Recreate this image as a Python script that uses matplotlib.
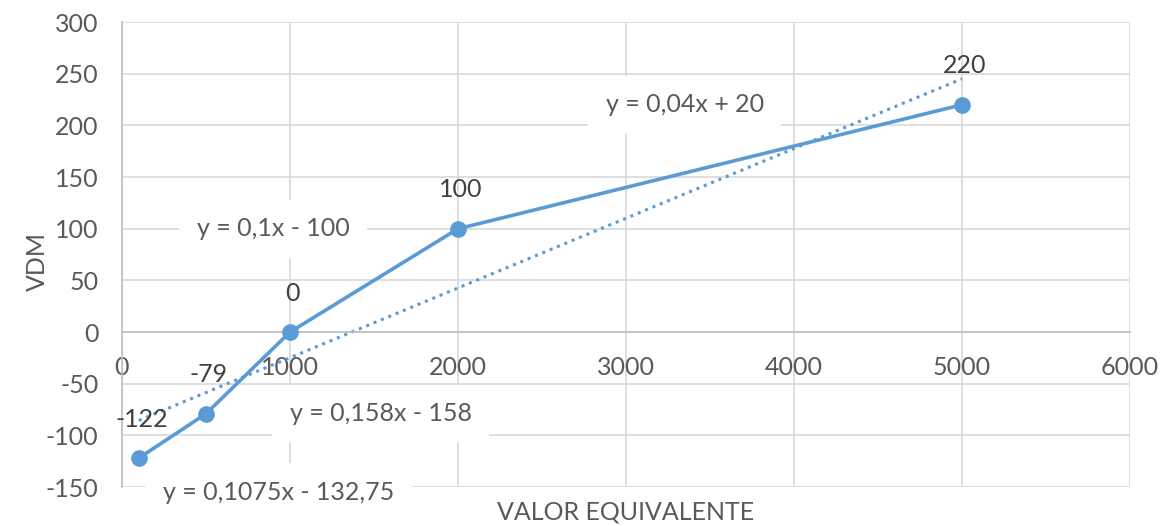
import numpy as np
import matplotlib
matplotlib.use("Agg")
import matplotlib.pyplot as plt

plt.rcParams['font.family'] = ['Lato', 'DejaVu Sans']
plt.rcParams['axes.unicode_minus'] = False

x_vals = [100, 500, 1000, 2000, 5000]
y_vals = [-122, -79, 0, 100, 220]
point_labels = ["-122", "-79", "0", "100", "220"]
equations = ["y = 0,1x - 100", "y = 0,04x + 20", "y = 0,158x - 158", "y = 0,1075x - 132,75"]
eq_positions = [(900, 100), (3350, 220), (1540, -79), (935, -155)]
x_ticks = [0, 1000, 2000, 3000, 4000, 5000, 6000]
y_ticks = [-150, -100, -50, 0, 50, 100, 150, 200, 250, 300]

blue = '#5B9BD5'
grey_text = '#595959'
grid_col = '#D9D9D9'
fs = 18

fig = plt.figure(figsize=(11.65, 5.26), dpi=100)
ax = fig.add_axes([0.1047, 0.074, 0.8653, 0.884])
ax.set_xlim(0, 6000)
ax.set_ylim(-150, 300)
ax.set_xticks(x_ticks)
ax.set_yticks(y_ticks)
ax.grid(True, color=grid_col, linewidth=1.2, zorder=0)
ax.set_axisbelow(True)

for s in ['top', 'right']:
    ax.spines[s].set_visible(False)
ax.spines['left'].set_color('#BFBFBF')
ax.spines['left'].set_linewidth(1.2)
ax.spines['bottom'].set_position(('data', 0))
ax.spines['bottom'].set_color('#BFBFBF')
ax.spines['bottom'].set_linewidth(1.2)
ax.tick_params(axis='both', length=0, labelsize=fs, labelcolor=grey_text)
ax.tick_params(axis='x', pad=17)
ax.tick_params(axis='y', pad=17)

# trendline (linear least squares over the series)
coef = np.polyfit(x_vals, y_vals, 1)
tx = np.array([min(x_vals), max(x_vals)])
ax.plot(tx, np.polyval(coef, tx), linestyle=(0, (1, 1.6)), color=blue, linewidth=2.2, zorder=2)

ax.plot(x_vals, y_vals, color=blue, linewidth=2.6, marker='o', markersize=11, zorder=3)

for xv, yv, lab in zip(x_vals, y_vals, point_labels):
    ax.annotate(lab, (xv, yv), xytext=(2, 28), textcoords='offset points', ha='center', va='center',
                fontsize=fs, color='#404040', zorder=5)

for eq, (ex, ey) in zip(equations, eq_positions):
    ax.text(ex, ey, eq, ha='center', va='center', fontsize=fs, color=grey_text, zorder=4,
            bbox=dict(boxstyle='square,pad=0.7', facecolor='white', edgecolor='none'),
            clip_on=False)

ax.set_ylabel('VDM', fontsize=fs, color=grey_text)
ax.set_xlabel('VALOR EQUIVALENTE', fontsize=fs, color=grey_text)
ax.xaxis.set_label_coords(0.5, -0.028)
ax.yaxis.set_label_coords(-0.072, 0.485)

fig.savefig('out.png', dpi=100)
